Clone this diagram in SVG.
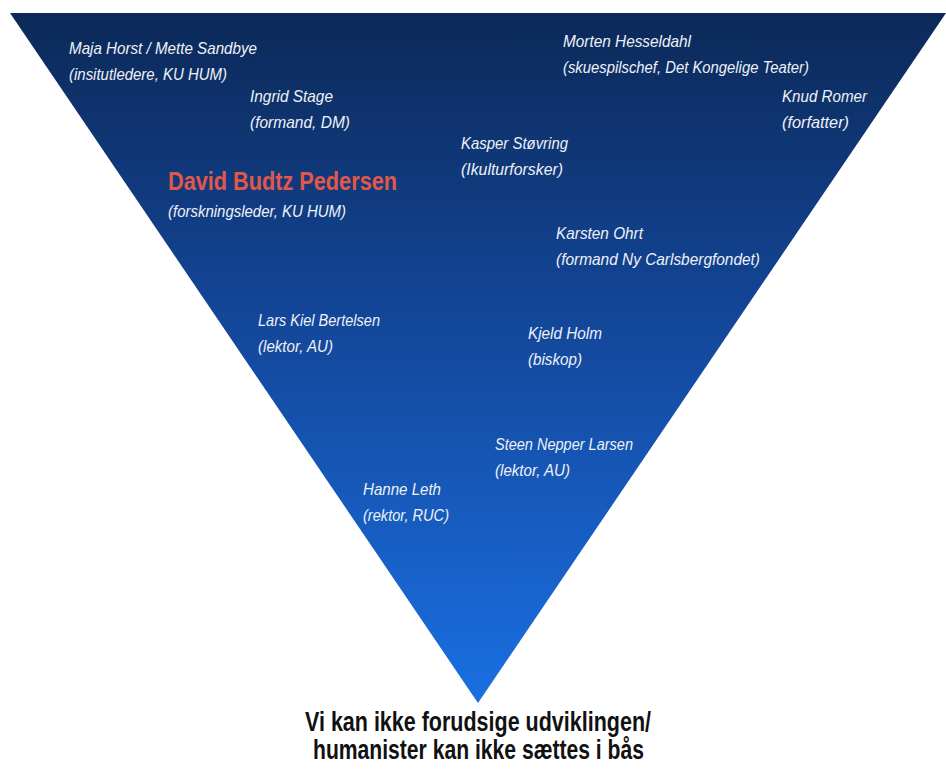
<svg xmlns="http://www.w3.org/2000/svg" width="946" height="774" viewBox="0 0 946 774">
<defs>
<linearGradient id="g" x1="0" y1="13" x2="0" y2="703" gradientUnits="userSpaceOnUse">
<stop offset="0" stop-color="#0c2958"/>
<stop offset="0.45" stop-color="#13479a"/>
<stop offset="1" stop-color="#1a6fe2"/>
</linearGradient>
</defs>
<style>
.n{font-family:"Liberation Sans",Arial,sans-serif;font-style:italic;font-size:17px;fill:#eef1f7}
.h{font-family:"Liberation Sans",Arial,sans-serif;font-weight:bold;font-size:25px;fill:#e0584a}
.b{font-family:"Liberation Sans",Arial,sans-serif;font-weight:bold;font-size:27px;fill:#111}
</style>
<g id="triangle"><polygon points="10,13 946,13 478,703" fill="url(#g)"/></g>
<g id="connectors"></g>
<g id="horst"><text class="n" x="69" y="54" textLength="188" lengthAdjust="spacingAndGlyphs">Maja Horst / Mette Sandbye</text><text class="n" x="69" y="80" textLength="158" lengthAdjust="spacingAndGlyphs">(insitutledere, KU HUM)</text></g>
<g id="stage"><text class="n" x="250" y="102" textLength="83" lengthAdjust="spacingAndGlyphs">Ingrid Stage</text><text class="n" x="250" y="128" textLength="100" lengthAdjust="spacingAndGlyphs">(formand, DM)</text></g>
<g id="hesseldahl"><text class="n" x="563" y="47" textLength="128" lengthAdjust="spacingAndGlyphs">Morten Hesseldahl</text><text class="n" x="563" y="73" textLength="246" lengthAdjust="spacingAndGlyphs">(skuespilschef, Det Kongelige Teater)</text></g>
<g id="romer"><text class="n" x="782" y="102" textLength="85" lengthAdjust="spacingAndGlyphs">Knud Romer</text><text class="n" x="782" y="128" textLength="67" lengthAdjust="spacingAndGlyphs">(forfatter)</text></g>
<g id="stovring"><text class="n" x="461" y="149" textLength="107" lengthAdjust="spacingAndGlyphs">Kasper Støvring</text><text class="n" x="461" y="175" textLength="102" lengthAdjust="spacingAndGlyphs">(Ikulturforsker)</text></g>
<g id="pedersen"><text class="h" x="168" y="190" textLength="229" lengthAdjust="spacingAndGlyphs">David Budtz Pedersen</text><text class="n" x="168" y="217" textLength="178" lengthAdjust="spacingAndGlyphs">(forskningsleder, KU HUM)</text></g>
<g id="ohrt"><text class="n" x="556" y="239" textLength="87" lengthAdjust="spacingAndGlyphs">Karsten Ohrt</text><text class="n" x="556" y="265" textLength="204" lengthAdjust="spacingAndGlyphs">(formand Ny Carlsbergfondet)</text></g>
<g id="bertelsen"><text class="n" x="258" y="326" textLength="122" lengthAdjust="spacingAndGlyphs">Lars Kiel Bertelsen</text><text class="n" x="258" y="352" textLength="75" lengthAdjust="spacingAndGlyphs">(lektor, AU)</text></g>
<g id="holm"><text class="n" x="528" y="339" textLength="74" lengthAdjust="spacingAndGlyphs">Kjeld Holm</text><text class="n" x="528" y="365" textLength="54" lengthAdjust="spacingAndGlyphs">(biskop)</text></g>
<g id="larsen"><text class="n" x="495" y="450" textLength="138" lengthAdjust="spacingAndGlyphs">Steen Nepper Larsen</text><text class="n" x="495" y="476" textLength="75" lengthAdjust="spacingAndGlyphs">(lektor, AU)</text></g>
<g id="leth"><text class="n" x="363" y="495" textLength="78" lengthAdjust="spacingAndGlyphs">Hanne Leth</text><text class="n" x="363" y="521" textLength="86" lengthAdjust="spacingAndGlyphs">(rektor, RUC)</text></g>
<g id="caption"><text class="b" x="305" y="731" textLength="346" lengthAdjust="spacingAndGlyphs">Vi kan ikke forudsige udviklingen/</text><text class="b" x="313" y="759" textLength="331" lengthAdjust="spacingAndGlyphs">humanister kan ikke sættes i bås</text></g>
</svg>
